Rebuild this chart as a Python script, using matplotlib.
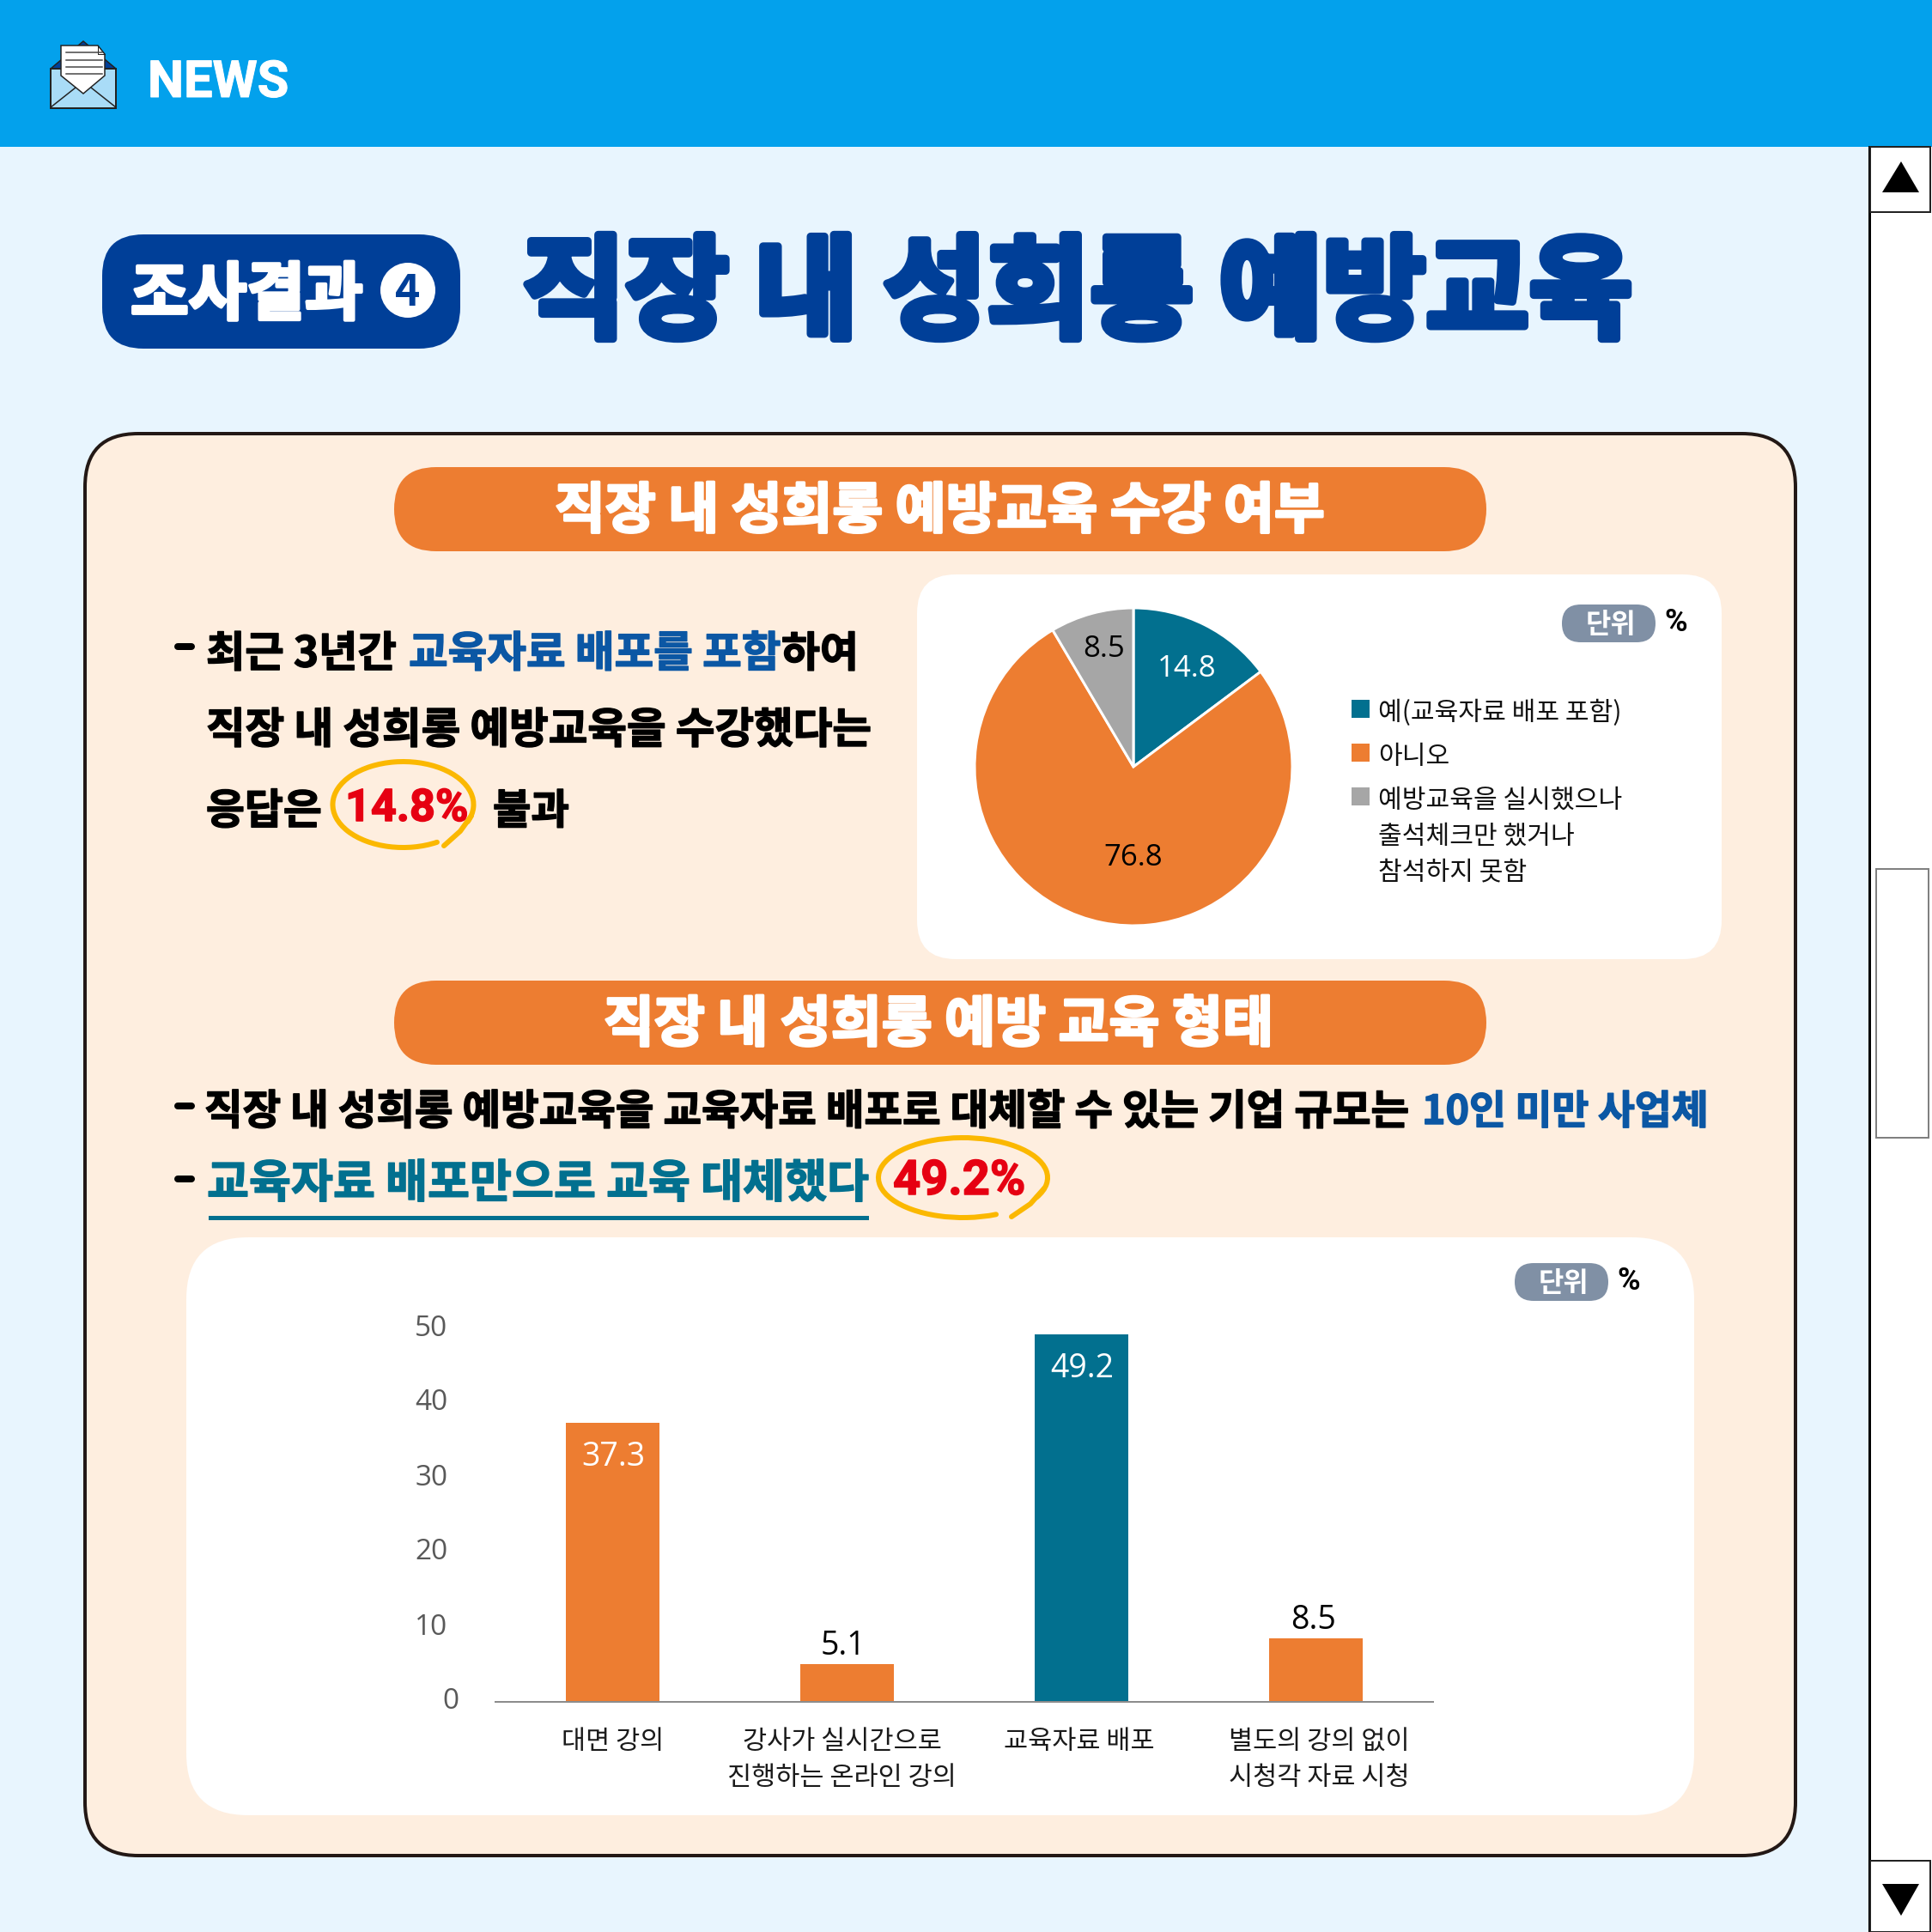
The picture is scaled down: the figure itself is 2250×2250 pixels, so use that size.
import matplotlib
matplotlib.use("Agg")
import matplotlib.pyplot as plt
import matplotlib.patheffects as pe
from matplotlib.patches import FancyBboxPatch, Rectangle, Polygon, Arc, Circle
from matplotlib.transforms import ScaledTranslation

plt.rcParams["font.family"] = ["Noto Sans CJK KR", "DejaVu Sans"]

# data
pie_labels = ["예(교육자료 배포 포함)", "아니오", "예방교육을 실시했으나\n출석체크만 했거나\n참석하지 못함"]
pie_values = [14.8, 76.8, 8.5]
bar_categories = ["대면 강의", "강사가 실시간으로\n진행하는 온라인 강의", "교육자료 배포", "별도의 강의 없이\n시청각 자료 시청"]
bar_values = [37.3, 5.1, 49.2, 8.5]
y_ticks = [0, 10, 20, 30, 40, 50]

# colours
SKY = "#03A1EC"
PALE = "#E8F5FE"
CREAM = "#FEEEDF"
NAVY = "#003F98"
ORANGE = "#ED7D31"
TEAL = "#02708F"
GREY = "#A6A6A6"
BLUE = "#0B57A4"
RED = "#E60012"
YELLOW = "#FBB800"
SLATE = "#8090A5"

W = 2250
PX = 0.72  # one pixel in points at dpi 100

fig = plt.figure(figsize=(22.5, 22.5), dpi=100, facecolor=PALE)
bg = fig.add_axes([0, 0, 1, 1])
bg.set_xlim(0, W)
bg.set_ylim(W, 0)
bg.axis("off")
renderer = fig.canvas.get_renderer()


def box(x0, y0, x1, y1, r, color, edge="none", lw=0, z=1):
    bg.add_patch(FancyBboxPatch((x0, y0), x1 - x0, y1 - y0, boxstyle=f"round,pad=0,rounding_size={r}",
                                fc=color, ec=edge, lw=lw * PX, zorder=z))


def fit(x0, x1, yc, s, color="black", weight="bold", stroke=0, dy=6, family=None):
    # font size comes from the width the text takes in the reference
    t = bg.text(x0, yc + dy, s, color=color, weight=weight, ha="left", va="center", fontsize=30, zorder=6)
    if family:
        t.set_family(family)
    t.set_fontsize(30 * (x1 - x0) / t.get_window_extent(renderer).width)
    if stroke:
        t.set_path_effects([pe.withStroke(linewidth=stroke * PX, foreground=color)])
    return t


def dash(y):
    bg.plot([207, 223], [y, y], color="black", lw=8 * PX, solid_capstyle="round", zorder=6)


def loop(cx, cy, rx, ry, tail):
    # hand drawn ring: open at the lower right, the end runs on as a short tail
    bg.add_patch(Arc((cx, cy), 2 * rx, 2 * ry, theta1=48, theta2=375, ec=YELLOW, lw=6 * PX, zorder=5,
                     capstyle="round"))
    bg.plot(tail[0], tail[1], color=YELLOW, lw=6 * PX, zorder=5, solid_capstyle="round")


# header
bg.add_patch(Rectangle((0, 0), W, 171, fc=SKY, ec="none"))
fit(172, 336, 92, "NEWS", color="white", stroke=1, dy=5, family="Roboto")

# envelope icon
bg.add_patch(Polygon([(59, 80), (97, 48), (135, 80), (135, 90), (59, 90)], fc=NAVY, ec="#222222", lw=1.5 * PX, zorder=2))
bg.add_patch(Rectangle((59, 80), 76, 46, fc="#A9DCF7", ec="#222222", lw=2 * PX, zorder=2))
bg.plot([59, 88], [125, 102], color="#222222", lw=1.5 * PX, zorder=3)
bg.plot([135, 106], [125, 102], color="#222222", lw=1.5 * PX, zorder=3)
bg.add_patch(Polygon([(71, 53), (114, 53), (122, 63), (122, 88), (97, 109), (71, 88)], fc="white", ec="#222222",
                     lw=1.5 * PX, zorder=4))
bg.plot([114, 114, 122], [53, 63, 63], color="#222222", lw=1 * PX, zorder=5)
for ly in [61, 70, 78, 86]:
    bg.plot([77, 119], [ly, ly], color="#444444", lw=1.5 * PX, zorder=5)

# scroll bar down the right edge
bg.add_patch(Rectangle((2178, 171), 72, 2079, fc="white", ec="none", zorder=1))
bg.plot([2177, 2177], [171, W], color="black", lw=3 * PX, zorder=2)
bg.add_patch(Rectangle((2178, 171), 70, 76, fc="white", ec="#222222", lw=2 * PX, zorder=2))
bg.add_patch(Rectangle((2178, 2167), 70, 83, fc="white", ec="#222222", lw=2 * PX, zorder=2))
bg.add_patch(Polygon([(2192, 224), (2235, 224), (2214, 188)], fc="black", ec="none", zorder=3))
bg.add_patch(Polygon([(2192, 2194), (2235, 2194), (2214, 2231)], fc="black", ec="none", zorder=3))
bg.add_patch(Rectangle((2185, 1012), 61, 313, fc="white", ec="#808080", lw=2 * PX, zorder=2))

# title
box(119, 273, 536, 406, 48, NAVY)
fit(152, 423, 337, "조사결과", color="white", weight="black", stroke=4, dy=8)
bg.add_patch(Circle((475, 338), 32, fc="white", ec="none", zorder=3))
bg.text(475, 341, "4", color=NAVY, weight="black", ha="center", va="center", fontsize=36, zorder=6)
fit(608, 1903, 335, "직장 내 성희롱 예방교육", color=NAVY, weight="black", stroke=9, dy=10)

# main panel
box(99, 505, 2091, 2161, 62, CREAM, edge="#231815", lw=4)
box(459, 544, 1731, 642, 49, ORANGE, z=2)
fit(646, 1544, 590, "직장 내 성희롱 예방교육 수강 여부", color="white", weight="black", stroke=3)
box(459, 1142, 1731, 1240, 49, ORANGE, z=2)
fit(703, 1484, 1188, "직장 내 성희롱 예방 교육 형태", color="white", weight="black", stroke=3)
box(1068, 669, 2005, 1117, 45, "white", z=2)
box(217, 1441, 1973, 2114, 72, "white", z=2)

# first block of text
dash(753)
fit(240, 462, 756, "최근 3년간", stroke=1.5)
fit(476, 910, 756, "교육자료 배포를 포함", color=BLUE, stroke=1.5)
fit(910, 1000, 756, "하여", stroke=1.5)
fit(240, 1016, 845, "직장 내 성희롱 예방교육을 수강했다는", stroke=1.5)
fit(240, 375, 939, "응답은", stroke=1.5)
fit(402, 545, 936, "14.8%", color=RED, stroke=1.5, family="Roboto")
fit(574, 663, 939, "불과", stroke=1.5)
loop(469.5, 937, 82, 50, ([549, 536, 517], [950, 968, 985]))

# second block of text
dash(1288)
fit(238, 1643, 1289, "직장 내 성희롱 예방교육을 교육자료 배포로 대체할 수 있는 기업 규모는", stroke=1.5)
fit(1656, 1990, 1289, "10인 미만 사업체", color=BLUE, stroke=1.5)
dash(1373)
fit(241, 1013, 1373, "교육자료 배포만으로 교육 대체했다", color=TEAL, stroke=1.5)
bg.plot([245, 1009], [1418, 1418], color=TEAL, lw=5 * PX, zorder=5)
fit(1040, 1194, 1370, "49.2%", color=RED, stroke=1.5, family="Roboto")
loop(1121.5, 1371.5, 98.5, 46.5, ([1216, 1200, 1178], [1384, 1402, 1417]))

# unit tags
for x0, y0, x_pct in [(1819, 704, 1938), (1764, 1471, 1883)]:
    box(x0, y0, x0 + 109, y0 + 44, 22, SLATE, z=3)
    bg.text(x0 + 57, y0 + 24, "단위", color="white", weight="bold", ha="center", va="center", fontsize=23, zorder=6)
    bg.text(x_pct, y0 + 21, "%", color="black", weight="bold", ha="left", va="center", fontsize=26, zorder=6,
            family=["Roboto", "DejaVu Sans"])

# pie
pie_ax = fig.add_axes([(1320 - 185) / W, 1 - (893 + 185) / W, 370 / W, 370 / W])
pie_colors = [TEAL, ORANGE, GREY]
pie_text_xy = [(0.337, 0.615), (0, -0.575), (-0.185, 0.74)]
pie_text_colors = ["white", "black", "black"]
pie_ax.pie(pie_values, colors=pie_colors, startangle=90, counterclock=False, radius=1,
           wedgeprops={"edgecolor": "white", "linewidth": 3 * PX})
pie_ax.set_xlim(-1, 1)
pie_ax.set_ylim(-1, 1)
for v, xy, c in zip(pie_values, pie_text_xy, pie_text_colors):
    pie_ax.text(xy[0], xy[1], f"{v:.1f}", color=c, ha="center", va="center", fontsize=25,
                family=["Open Sans", "DejaVu Sans"])

# legend of the pie, drawn by hand since the wrapped label needs its own line spacing
legend_y = [825, 876, 927]
for c, label, ly in zip(pie_colors, pie_labels, legend_y):
    bg.add_patch(Rectangle((1574, ly - 10), 21, 21, fc=c, ec="none", zorder=5))
    bg.text(1605, ly - 10, label, ha="left", va="top", fontsize=21.7, linespacing=1.45, color="#111111", zorder=6)

# bars
bar_ax = fig.add_axes([577 / W, 1 - 1982 / W, (1669 - 577) / W, (1982 - 1547) / W])
bar_ax.patch.set_alpha(0)
bar_colors = [ORANGE, ORANGE, TEAL, ORANGE]
bars = bar_ax.bar(range(len(bar_values)), bar_values, width=0.4, color=bar_colors)
bar_ax.set_xlim(-0.5, 3.5)
bar_ax.set_ylim(0, 50)
for s in ["top", "right", "left"]:
    bar_ax.spines[s].set_visible(False)
bar_ax.spines["bottom"].set_color("#8C8C8C")
bar_ax.spines["bottom"].set_linewidth(2 * PX)
bar_ax.set_yticks(y_ticks)
bar_ax.set_xticks(range(len(bar_categories)))
bar_ax.set_xticklabels(bar_categories, fontsize=22, color="#1A1A1A", linespacing=1.46, va="top")
bar_ax.tick_params(axis="x", length=0, pad=22)
bar_ax.tick_params(axis="y", length=0, pad=40, labelsize=24, labelcolor="#595959")
for tick in bar_ax.get_yticklabels():
    tick.set_family(["Open Sans", "DejaVu Sans"])
    shift = 13 if tick.get_text() == "0" else 0
    tick.set_transform(tick.get_transform() + ScaledTranslation(shift * PX / 72, 4 * PX / 72, fig.dpi_scale_trans))
# the category labels in the reference sit a little off their bars
label_shift = [0, -6, -3, 4]
for tick, dx in zip(bar_ax.get_xticklabels(), label_shift):
    tick.set_transform(tick.get_transform() + ScaledTranslation(dx * PX / 72, 0, fig.dpi_scale_trans))
value_shift = [1, -5, 1, -3]
for rect, v, dx in zip(bars, bar_values, value_shift):
    inside = v > 20
    bar_ax.annotate(f"{v:.1f}", (rect.get_x() + rect.get_width() / 2, v),
                    xytext=(dx * PX, -40 * PX if inside else 21 * PX),
                    textcoords="offset points", ha="center", va="center", fontsize=27,
                    color="white" if inside else "black", family=["Open Sans", "DejaVu Sans"])

fig.savefig("out.png", dpi=100, facecolor=PALE)
